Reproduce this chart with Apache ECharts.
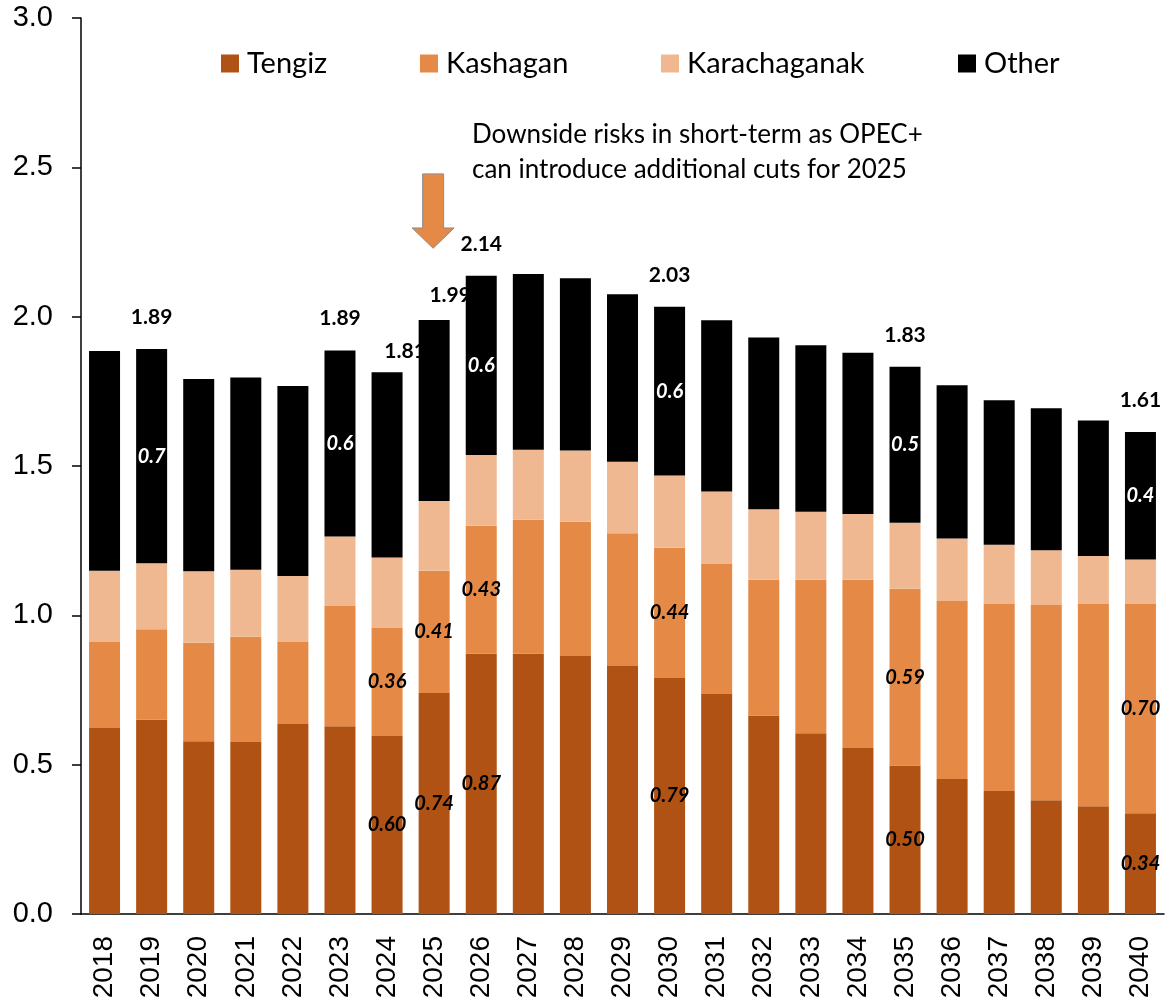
<!DOCTYPE html>
<html>
<head>
<meta charset="utf-8">
<script src="https://cdn.jsdelivr.net/npm/echarts@6/dist/echarts.min.js"></script>
<style>
    html, body { margin: 0; padding: 0; background: #fff; }
    #main { width: 1166px; height: 1003px; }
</style>
</head>
<body>
<div id="main"></div>
<script>
var years = ['2018', '2019', '2020', '2021', '2022', '2023', '2024', '2025', '2026', '2027', '2028', '2029',
    '2030', '2031', '2032', '2033', '2034', '2035', '2036', '2037', '2038', '2039', '2040'];
var tengiz = [0.623, 0.650, 0.578, 0.576, 0.636, 0.629, 0.596, 0.740, 0.871, 0.871, 0.864, 0.830,
    0.790, 0.737, 0.665, 0.605, 0.556, 0.497, 0.452, 0.412, 0.381, 0.361, 0.337];
var kashagan = [0.288, 0.303, 0.330, 0.352, 0.275, 0.402, 0.362, 0.409, 0.429, 0.449, 0.449, 0.445,
    0.436, 0.435, 0.454, 0.514, 0.563, 0.592, 0.596, 0.626, 0.654, 0.677, 0.701];
var karachaganak = [0.238, 0.221, 0.240, 0.225, 0.221, 0.233, 0.236, 0.234, 0.237, 0.234, 0.239, 0.239,
    0.242, 0.243, 0.236, 0.228, 0.220, 0.221, 0.209, 0.198, 0.183, 0.161, 0.149];
var other = [0.736, 0.718, 0.643, 0.643, 0.636, 0.623, 0.620, 0.606, 0.600, 0.589, 0.577, 0.561,
    0.565, 0.573, 0.575, 0.557, 0.540, 0.522, 0.513, 0.484, 0.475, 0.453, 0.427];
var yTicks = [0, 0.5, 1.0, 1.5, 2.0, 2.5, 3.0];

// years that carry value labels
var fieldLabelYears = ['2024', '2025', '2026', '2030', '2035', '2040'];
var otherLabelYears = ['2019', '2023', '2026', '2030', '2035', '2040'];
var totalLabelYears = ['2019', '2023', '2024', '2025', '2026', '2030', '2035', '2040'];

var note = ['Downside risks in short-term as OPEC+', 'can introduce additional cuts for 2025'];
var arrowLevels = [2.478, 2.297, 2.229]; // top, neck, tip (axis units), over 2025

var colors = {Tengiz: '#AF5214', Kashagan: '#E48946', Karachaganak: '#F0B890', Other: '#000000'};
var totalShift = {'2024': [18, -21], '2025': [16, -25]};

var totals = years.map(function (y, i) {
    return tengiz[i] + kashagan[i] + karachaganak[i] + other[i];
});

function items(values, labelYears) {
    return values.map(function (v, i) {
        if (labelYears.indexOf(years[i]) >= 0) {
            return {value: v, label: {show: true}};
        }
        return v;
    });
}

var labelFont = {fontFamily: 'Lato', fontWeight: 'bold', fontStyle: 'italic', fontSize: 20};

function barSeries(name, values, labelYears, labelColor, fmt) {
    return {
        name: name,
        type: 'bar',
        stack: 'total',
        barWidth: 31,
        z: 2,
        itemStyle: {color: colors[name]},
        label: Object.assign({
            show: false,
            position: 'inside',
            color: labelColor,
            formatter: function (p) { return p.value.toFixed(fmt); }
        }, labelFont),
        emphasis: {disabled: true},
        data: items(values, labelYears || [])
    };
}

function legendFor(name, left) {
    return {
        data: [name],
        left: left,
        top: 49,
        padding: 0,
        icon: 'rect',
        itemWidth: 18,
        itemHeight: 18,
        selectedMode: false,
        textStyle: {fontFamily: 'Lato', fontSize: 29, color: '#000', padding: [0, 0, 0, 3]}
    };
}

var chart = echarts.init(document.getElementById('main'));
chart.setOption({
    animation: false,
    backgroundColor: '#ffffff',
    grid: {left: 81, right: 2, top: 18, bottom: 89},
    legend: [
        legendFor('Tengiz', 221),
        legendFor('Kashagan', 420),
        legendFor('Karachaganak', 661),
        legendFor('Other', 958)
    ],
    xAxis: {
        type: 'category',
        data: years,
        axisLine: {lineStyle: {color: '#000', width: 1.5}},
        axisTick: {length: 10, lineStyle: {color: '#000', width: 1.5}},
        axisLabel: {rotate: 90, margin: 22, color: '#000', fontFamily: 'Liberation Sans', fontSize: 28}
    },
    yAxis: {
        type: 'value',
        min: yTicks[0],
        max: yTicks[yTicks.length - 1],
        interval: 0.5,
        splitLine: {show: false},
        axisLine: {show: true, lineStyle: {color: '#000', width: 1.5}},
        axisTick: {show: true, length: 9, lineStyle: {color: '#000', width: 1.5}},
        axisLabel: {
            margin: 28, color: '#000', fontFamily: 'Liberation Sans', fontSize: 29,
            formatter: function (v) { return v.toFixed(1); }
        }
    },
    series: [
        barSeries('Tengiz', tengiz, fieldLabelYears, '#000', 2),
        barSeries('Kashagan', kashagan, fieldLabelYears, '#000', 2),
        barSeries('Karachaganak', karachaganak, [], '#000', 2),
        barSeries('Other', other, otherLabelYears, '#fff', 1),
        {
            name: 'total',
            type: 'scatter',
            symbolSize: 0,
            z: 1,
            silent: true,
            itemStyle: {opacity: 1},
            label: {
                show: false,
                position: 'inside',
                color: '#000',
                fontFamily: 'Lato',
                fontWeight: 'bold',
                fontSize: 21,
                formatter: function (p) { return p.value.toFixed(2); }
            },
            data: totals.map(function (t, i) {
                var y = years[i];
                if (totalLabelYears.indexOf(y) < 0) {
                    return t;
                }
                return {value: t, label: {show: true, offset: totalShift[y] || [0, -32]}};
            })
        }
    ]
});

// arrow and note, placed from the axes
var pTop = chart.convertToPixel({xAxisIndex: 0, yAxisIndex: 0}, ['2025', arrowLevels[0]]);
var pNeck = chart.convertToPixel({xAxisIndex: 0, yAxisIndex: 0}, ['2025', arrowLevels[1]]);
var pTip = chart.convertToPixel({xAxisIndex: 0, yAxisIndex: 0}, ['2025', arrowLevels[2]]);
var cx = pTop[0] - 1;
chart.setOption({
    graphic: [
        {
            type: 'polygon',
            shape: {
                points: [
                    [cx - 10.5, pTop[1]], [cx + 10.5, pTop[1]], [cx + 10.5, pNeck[1]], [cx + 21, pNeck[1]],
                    [cx, pTip[1]], [cx - 21, pNeck[1]], [cx - 10.5, pNeck[1]]
                ]
            },
            style: {fill: colors.Kashagan, stroke: '#8c8c8c', lineWidth: 1}
        },
        {
            type: 'text',
            left: 472,
            top: 117,
            style: {
                text: note.join('\n'),
                fontFamily: 'Lato',
                fontSize: 26,
                lineHeight: 35,
                fill: '#000'
            }
        }
    ]
});
</script>
</body>
</html>
